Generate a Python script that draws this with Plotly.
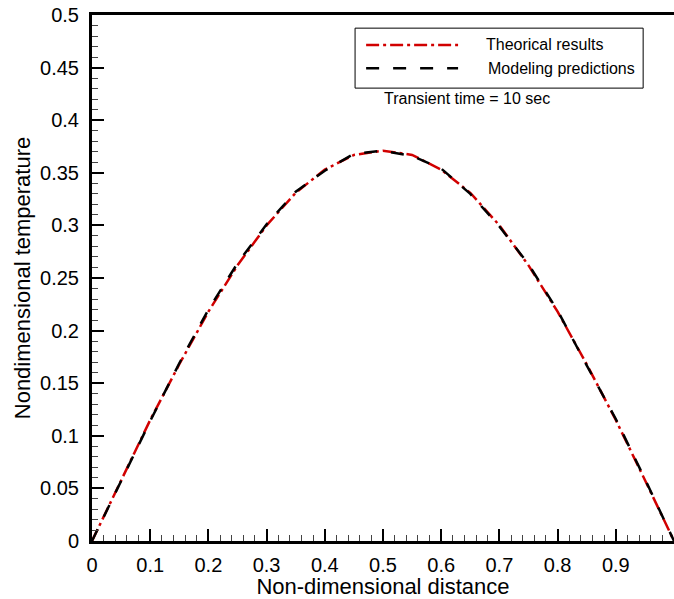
import plotly.graph_objects as go

x_vals = [0.0, 0.05, 0.1, 0.15, 0.2, 0.25, 0.3, 0.35, 0.4, 0.45, 0.5,
          0.55, 0.6, 0.65, 0.7, 0.75, 0.8, 0.85, 0.9, 0.95, 1.0]
theory = [0.0, 0.058, 0.115, 0.168, 0.218, 0.262, 0.300, 0.331, 0.353, 0.367, 0.371,
          0.367, 0.353, 0.331, 0.300, 0.262, 0.218, 0.168, 0.115, 0.058, 0.0]
model = [0.0, 0.057, 0.114, 0.169, 0.220, 0.264, 0.301, 0.332, 0.352, 0.368, 0.371,
         0.366, 0.354, 0.330, 0.299, 0.263, 0.219, 0.167, 0.116, 0.059, 0.0]
series_names = ["Theorical results", "Modeling predictions"]
series_colors = ["#d10000", "black"]
series_dash = ["13px,4px,3px,4px", "13px,14px"]

FONT = "Liberation Sans, Arial, sans-serif"

fig = go.Figure()
for yv, nm, col, ds in zip([theory, model], series_names, series_colors, series_dash):
    fig.add_trace(go.Scatter(x=x_vals, y=yv, mode="lines", name=nm, showlegend=False,
                             line=dict(color=col, width=2.5, dash=ds)))

axis_common = dict(
    showline=True, linecolor="black", linewidth=3, mirror=True,
    ticks="inside", ticklen=12, tickwidth=2, tickcolor="black",
    showgrid=False, zeroline=False, automargin=False,
    tickfont=dict(family=FONT, size=20, color="black"),
)

fig.update_xaxes(range=[0, 1], dtick=0.1, tick0=0,
                 minor=dict(ticks="inside", ticklen=6, tickwidth=1, tickcolor="#444", dtick=0.02),
                 title=dict(text="Non-dimensional distance", font=dict(family=FONT, size=22, color="black"), standoff=4),
                 ticklabelstandoff=4,
                 **axis_common)
fig.update_yaxes(range=[0, 0.5], dtick=0.05, tick0=0,
                 minor=dict(ticks="inside", ticklen=6, tickwidth=1, tickcolor="#444", dtick=0.01),
                 title=dict(text="Nondimensional temperature", font=dict(family=FONT, size=22, color="black"), standoff=4),
                 ticklabelstandoff=6,
                 **axis_common)

# legend box drawn manually (paper coordinates)
fig.add_shape(type="rect", xref="paper", yref="paper", x0=0.452, x1=0.947, y0=0.861, y1=0.975,
              line=dict(color="black", width=1), fillcolor="white", layer="above")
legend_rows_y = [0.943, 0.899]
legend_text_x = [0.6735, 0.677]
for ry, tx, nm, col, ds in zip(legend_rows_y, legend_text_x, series_names, series_colors, series_dash):
    fig.add_shape(type="line", xref="paper", yref="paper", x0=0.471, x1=0.629, y0=ry, y1=ry,
                  line=dict(color=col, width=2.5, dash=ds), layer="above")
    fig.add_annotation(x=tx, y=ry, xref="paper", yref="paper", xanchor="left", yanchor="middle",
                       text=nm, showarrow=False, font=dict(family=FONT, size=16, color="black"))

fig.add_annotation(x=0.498, y=0.842, xref="paper", yref="paper", xanchor="left", yanchor="middle",
                   text="Transient time = 10 sec", showarrow=False,
                   font=dict(family=FONT, size=16, color="black"))

fig.update_layout(
    template="none",
    width=674, height=599,
    margin=dict(l=92, r=0, t=15, b=58),
    paper_bgcolor="white", plot_bgcolor="white",
    font=dict(family=FONT, color="black"),
    showlegend=False,
)

fig.write_html("out.html")
